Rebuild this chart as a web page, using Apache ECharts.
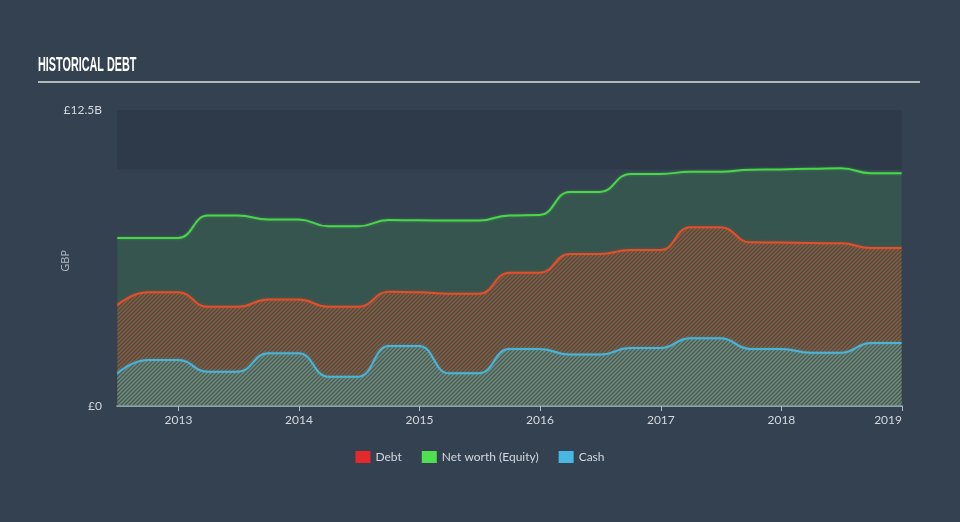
<!DOCTYPE html>
<html>
<head>
<meta charset="utf-8">
<script src="https://cdn.jsdelivr.net/npm/echarts@6/dist/echarts.min.js"></script>
<style>
html,body{margin:0;padding:0;background:#344151;}
#chart{width:960px;height:522px;}
</style>
</head>
<body>
<div id="chart"></div>
<script>
// Quarter-end reporting dates
const dates = [
  '2012-06-30','2012-09-30','2012-12-31','2013-03-31','2013-06-30','2013-09-30','2013-12-31',
  '2014-03-31','2014-06-30','2014-09-30','2014-12-31','2015-03-31','2015-06-30','2015-09-30',
  '2015-12-31','2016-03-31','2016-06-30','2016-09-30','2016-12-31','2017-03-31','2017-06-30',
  '2017-09-30','2017-12-31','2018-03-31','2018-06-30','2018-09-30','2018-12-31'
];
// Values in GBP billions
const equity = [7.09,7.09,7.09,8.04,8.04,7.88,7.88,7.59,7.59,7.85,7.84,7.83,7.83,8.05,8.07,9.04,9.04,9.80,9.80,9.89,9.89,9.98,9.99,10.02,10.04,9.83,9.83];
const debt   = [4.27,4.80,4.80,4.19,4.19,4.50,4.50,4.19,4.19,4.83,4.80,4.74,4.74,5.63,5.63,6.42,6.42,6.59,6.59,7.55,7.55,6.91,6.90,6.88,6.87,6.67,6.67];
const cash   = [1.38,1.94,1.94,1.45,1.45,2.23,2.23,1.24,1.24,2.53,2.53,1.38,1.38,2.41,2.41,2.17,2.17,2.45,2.45,2.86,2.86,2.41,2.41,2.25,2.25,2.66,2.66];
const seriesNames = ['Debt','Net worth (Equity)','Cash'];
const yTicks = [0, 12.5];
const xTickYears = ['2013','2014','2015','2016','2017','2018','2019'];

function pair(vals){ return dates.map((d,i)=>[d, vals[i]]); }

function hatch(stroke, width, bg){
  const s = 4;
  const c = document.createElement('canvas');
  c.width = s; c.height = s;
  const g = c.getContext('2d');
  if (bg){ g.fillStyle = bg; g.fillRect(0,0,s,s); }
  g.strokeStyle = stroke; g.lineWidth = width;
  g.beginPath();
  g.moveTo(-1, s+1); g.lineTo(s+1, -1);
  g.moveTo(-1, 1); g.lineTo(1, -1);
  g.moveTo(s-1, s+1); g.lineTo(s+1, s-1);
  g.stroke();
  return {image: c, repeat: 'repeat'};
}

const chart = echarts.init(document.getElementById('chart'), null, {renderer:'canvas'});
const textCol = '#d3d8de';
chart.setOption({
  backgroundColor: '#344151',
  animation: false,
  graphic: [
    {type:'text', left:38, top:56, scaleX:0.57, scaleY:1.05, originX:0,
     style:{text:'HISTORICAL DEBT', fill:'#ffffff', font:'bold 19px "Liberation Sans", Arial, sans-serif'}, silent:true},
    {type:'rect', left:38, top:81, shape:{width:882, height:2}, style:{fill:'#b3b8bf'}, silent:true},
    {type:'text', left:60, top:250, rotation:Math.PI/2, style:{text:'GBP', fill:'#b4bcc6', font:'11px "Open Sans", sans-serif'}}
  ],
  legend: {
    bottom: 54, left: 'center',
    icon: 'rect', itemWidth: 15, itemHeight: 12, itemGap: 20,
    textStyle: {color: textCol, fontSize: 12, fontFamily:'Lato, "Open Sans", sans-serif'},
    data: [
      {name: seriesNames[0], itemStyle:{color:'#e5282c'}},
      {name: seriesNames[1], itemStyle:{color:'#4fe04f'}},
      {name: seriesNames[2], itemStyle:{color:'#48b8e0'}}
    ]
  },
  grid: {left:117, right:58, top:110, bottom:116, containLabel:false},
  xAxis: {
    type: 'time',
    min: '2012-06-29', max: '2019-01-01T06:00:00',
    minInterval: 365.25*86400000, maxInterval: 366*86400000,
    axisLine: {show:true, lineStyle:{color:'#aebccb', width:1.5}},
    axisTick: {show:true, length:5, lineStyle:{color:'#aebccb'}},
    splitLine: {show:false},
    axisLabel: {
      color: textCol, fontSize: 12, fontFamily:'Lato, "Open Sans", sans-serif', margin: 8,
      showMaxLabel: true, alignMaxLabel: 'right',
      formatter: function(v){ const y = String(new Date(v).getFullYear()); return xTickYears.indexOf(y) >= 0 ? y : ''; }
    }
  },
  yAxis: {
    type: 'value', min: 0, max: 12.5, interval: 12.5,
    axisLine: {show:false}, axisTick: {show:false}, splitLine: {show:false},
    axisLabel: {
      color: textCol, fontSize: 12, fontFamily:'Lato, "Open Sans", sans-serif', margin: 15,
      formatter: function(v){ return v === 0 ? '£0' : '£' + v + 'B'; }
    }
  },
  series: [
    {
      name: seriesNames[1], type: 'line', data: pair(equity),
      smooth: 0.5, smoothMonotone: 'x', symbol: 'none', z: 2,
      itemStyle: {color:'#4fe04f'},
      lineStyle: {color:'#4ad64a', width:2, shadowColor:'rgba(74,214,74,0.4)', shadowBlur:3},
      areaStyle: {color:'rgba(74,214,74,0.2)'},
      markArea: {
        silent: true,
        itemStyle: {color:'#2e3a4a'},
        data: [[{yAxis: 10}, {yAxis: 12.5}]]
      }
    },
    {
      name: seriesNames[0], type: 'line', data: pair(debt),
      smooth: 0.5, smoothMonotone: 'x', symbol: 'none', z: 3,
      itemStyle: {color:'#e5282c'},
      lineStyle: {color:'#e0502a', width:2, shadowColor:'rgba(224,80,42,0.4)', shadowBlur:3},
      areaStyle: {color: hatch('rgba(215,85,45,0.9)', 1.4, 'rgba(120,90,60,0.15)')}
    },
    {
      name: seriesNames[2], type: 'line', data: pair(cash),
      smooth: 0.5, smoothMonotone: 'x', symbol: 'none', z: 4,
      itemStyle: {color:'#48b8e0'},
      lineStyle: {color:'#4ab4d6', width:2, shadowColor:'rgba(74,180,214,0.4)', shadowBlur:3},
      areaStyle: {color: hatch('rgba(90,170,175,0.85)', 1.4, 'rgba(80,135,115,0.3)')}
    }
  ]
});
</script>
</body>
</html>
